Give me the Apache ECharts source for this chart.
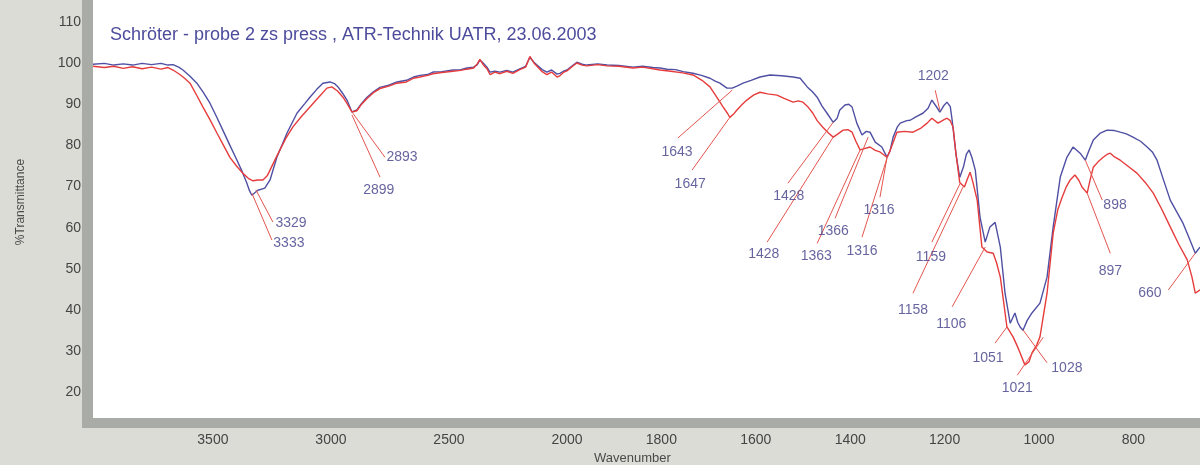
<!DOCTYPE html>
<html>
<head>
<meta charset="utf-8">
<script src="https://cdn.jsdelivr.net/npm/echarts@6/dist/echarts.min.js"></script>
<style>
  html, body { margin: 0; padding: 0; background: #dcdcd7; }
  #chart { width: 1200px; height: 465px; }
</style>
</head>
<body>
<div id="chart"></div>
<script>
// wavenumber ticks along the bottom, y ticks on the left
const xTicks = [3500, 3000, 2500, 2000, 1800, 1600, 1400, 1200, 1000, 800]
const yTicks = [20, 30, 40, 50, 60, 70, 80, 90, 100, 110]

// blue spectrum [wavenumber, %T]
const blueData = [
  [4008, 99.7], [3960, 99.9], [3920, 99.5], [3880, 99.8], [3840, 99.5], [3800, 99.9], [3760, 99.6],
  [3720, 99.9], [3690, 99.5], [3669, 99.6], [3645, 99.0], [3627, 98.3], [3597, 96.8], [3568, 95.1],
  [3540, 92.8], [3513, 90.3], [3485, 87.0], [3458, 83.7], [3428, 80.0], [3398, 76.4], [3375, 73.5],
  [3356, 70.8], [3345, 69.0], [3335, 67.9], [3320, 68.6], [3309, 69.1], [3280, 69.6], [3258, 71.6],
  [3229, 77.1], [3186, 83.0], [3144, 87.8], [3110, 90.2], [3089, 91.7], [3060, 93.6], [3034, 95.1],
  [3004, 95.4], [2985, 95.0], [2970, 94.2], [2950, 92.6], [2932, 91.0], [2911, 88.1], [2890, 88.6],
  [2870, 90.2], [2847, 91.7], [2820, 93.0], [2792, 94.1], [2755, 94.6], [2720, 95.4], [2680, 95.8],
  [2650, 96.6], [2623, 97.0], [2590, 97.2], [2568, 97.8], [2530, 97.9], [2483, 98.3], [2450, 98.4],
  [2424, 98.8], [2395, 99.0], [2380, 99.6], [2369, 100.7], [2355, 100.0], [2339, 99.0], [2326, 97.8],
  [2305, 98.0], [2284, 97.8], [2255, 98.2], [2229, 97.8], [2200, 98.6], [2175, 99.2], [2157, 101.4],
  [2140, 100.2], [2127, 99.5], [2105, 98.4], [2085, 97.8], [2065, 98.3], [2042, 97.3], [2030, 97.5],
  [2015, 98.0], [2000, 98.3], [1988, 99.4], [1979, 100.2], [1968, 99.7], [1958, 99.5], [1935, 99.8],
  [1915, 99.5], [1890, 99.4], [1860, 99.0], [1840, 99.2], [1818, 98.9], [1803, 98.8], [1788, 98.5],
  [1770, 98.4], [1754, 97.9], [1733, 97.5], [1715, 97.0], [1697, 96.3], [1686, 95.6], [1676, 95.1],
  [1661, 93.9], [1650, 93.9], [1640, 94.4], [1627, 95.1], [1610, 95.8], [1591, 96.6], [1570, 97.1],
  [1545, 96.9], [1521, 96.6], [1506, 96.3], [1491, 94.2], [1480, 93.0], [1470, 91.7], [1460, 89.6],
  [1449, 87.8], [1436, 85.6], [1428, 86.5], [1422, 88.6], [1411, 89.8], [1403, 90.0], [1396, 89.3],
  [1386, 85.4], [1375, 82.5], [1366, 83.4], [1358, 83.2], [1347, 80.8], [1333, 79.6], [1322, 77.1],
  [1316, 78.5], [1309, 82.0], [1300, 84.5], [1294, 85.4], [1280, 86.0], [1273, 86.1], [1260, 87.0],
  [1246, 87.8], [1235, 89.0], [1227, 91.0], [1218, 89.5], [1210, 88.1], [1202, 89.6], [1195, 90.5],
  [1188, 89.4], [1184, 86.1], [1176, 78.0], [1168, 72.2], [1160, 74.8], [1154, 77.8], [1148, 78.9],
  [1142, 77.0], [1135, 74.0], [1125, 62.6], [1114, 56.5], [1104, 60.2], [1093, 61.3], [1082, 55.3],
  [1072, 44.1], [1061, 36.8], [1051, 39.3], [1045, 37.0], [1040, 35.9], [1034, 35.1], [1025, 37.5],
  [1015, 39.3], [998, 41.7], [983, 48.0], [970, 60.2], [955, 72.3], [941, 77.1], [928, 79.6],
  [913, 78.1], [902, 76.4], [894, 78.8], [885, 81.3], [870, 83.0], [856, 83.7], [840, 83.6],
  [828, 83.2], [815, 82.8], [801, 82.0], [785, 81.0], [771, 79.6], [760, 78.4], [750, 76.4],
  [736, 71.5], [722, 66.7], [708, 63.8], [695, 61.1], [682, 57.5], [669, 53.8], [659, 55.3]
]

// red spectrum [wavenumber, %T]
const redData = [
  [4008, 99.2], [3960, 98.9], [3920, 99.2], [3880, 98.7], [3840, 99.1], [3800, 98.6], [3760, 99.0],
  [3720, 98.5], [3690, 98.9], [3669, 98.3], [3640, 97.2], [3620, 96.3], [3597, 95.1], [3570, 92.3],
  [3542, 89.3], [3512, 86.2], [3483, 83.0], [3455, 80.0], [3428, 77.1], [3400, 75.0], [3373, 73.2],
  [3350, 72.0], [3330, 71.4], [3310, 71.6], [3288, 71.6], [3270, 72.6], [3258, 74.0], [3236, 76.6],
  [3216, 78.9], [3190, 81.8], [3161, 84.5], [3125, 87.0], [3089, 89.3], [3050, 91.8], [3017, 93.9],
  [2996, 94.2], [2972, 93.2], [2949, 91.7], [2930, 90.0], [2911, 88.1], [2890, 88.4], [2870, 90.0],
  [2847, 91.4], [2820, 92.8], [2792, 93.8], [2755, 94.4], [2720, 95.1], [2680, 95.4], [2650, 96.3],
  [2623, 96.6], [2590, 97.0], [2568, 97.4], [2530, 97.7], [2483, 98.0], [2450, 98.2], [2424, 98.5],
  [2395, 98.8], [2380, 99.8], [2369, 100.9], [2355, 99.6], [2339, 98.6], [2326, 97.2], [2305, 97.8],
  [2284, 97.4], [2255, 98.0], [2229, 97.5], [2200, 98.4], [2175, 99.0], [2157, 101.6], [2140, 100.0],
  [2127, 99.2], [2105, 97.9], [2085, 97.2], [2065, 97.8], [2042, 96.6], [2030, 96.9], [2015, 97.7],
  [2000, 98.1], [1988, 99.2], [1979, 100.0], [1968, 99.5], [1958, 99.3], [1935, 99.6], [1915, 99.3],
  [1890, 99.2], [1860, 98.8], [1840, 99.0], [1818, 98.6], [1803, 98.3], [1780, 98.0], [1755, 97.6],
  [1733, 97.1], [1714, 95.8], [1697, 94.2], [1682, 91.6], [1669, 89.3], [1660, 87.8], [1655, 86.8],
  [1647, 87.6], [1640, 88.6], [1630, 89.8], [1619, 91.0], [1605, 92.2], [1591, 92.9], [1575, 92.5],
  [1555, 92.2], [1540, 91.4], [1521, 90.5], [1510, 90.8], [1500, 90.5], [1490, 89.4], [1479, 87.8],
  [1470, 86.0], [1458, 84.4], [1446, 83.0], [1436, 82.0], [1428, 82.6], [1415, 83.7], [1405, 83.8],
  [1396, 83.2], [1388, 81.0], [1379, 78.9], [1370, 79.2], [1358, 79.6], [1347, 78.8], [1337, 78.4],
  [1322, 77.1], [1316, 78.6], [1301, 83.2], [1285, 83.4], [1267, 83.2], [1250, 84.2], [1237, 85.4],
  [1227, 86.6], [1214, 85.4], [1202, 86.2], [1195, 86.6], [1188, 86.0], [1182, 84.4], [1176, 78.0],
  [1168, 71.0], [1158, 69.9], [1152, 71.8], [1146, 73.5], [1140, 71.0], [1131, 66.7], [1121, 55.3],
  [1110, 54.1], [1097, 53.8], [1090, 51.5], [1082, 48.0], [1075, 42.0], [1068, 35.9], [1055, 33.5],
  [1047, 31.5], [1040, 29.6], [1030, 26.7], [1021, 27.5], [1015, 29.6], [1005, 31.5], [998, 33.5],
  [983, 44.1], [970, 58.7], [960, 64.5], [951, 67.4], [942, 70.0], [934, 71.6], [924, 72.8],
  [916, 71.6], [909, 69.9], [898, 68.4], [892, 71.5], [885, 74.7], [875, 76.0], [864, 77.1],
  [856, 77.8], [849, 78.1], [840, 77.2], [828, 76.4], [810, 74.8], [792, 73.2], [775, 71.0],
  [758, 68.4], [740, 64.5], [722, 60.2], [704, 56.0], [686, 52.2], [676, 48.0], [669, 44.1], [659, 44.9]
]

// peak labels: [text, start wavenumber, start %T, end wavenumber, end %T, label wavenumber, label %T]
const peakLabels = [
  ['3329', 3318, 69.2, 3246, 61.4, 3169, 61.1],
  ['3333', 3335, 68.4, 3250, 57.0, 3178, 56.3],
  ['2893', 2907, 87.8, 2771, 77.1, 2699, 77.1],
  ['2899', 2911, 87.4, 2792, 72.3, 2797, 69.2],
  ['1643', 1650, 93.4, 1765, 81.8, 1767, 78.4],
  ['1647', 1655, 86.8, 1735, 74.0, 1739, 70.6],
  ['1428', 1436, 85.6, 1532, 70.8, 1530, 67.6],
  ['1428', 1436, 82.0, 1576, 56.5, 1583, 53.6],
  ['1366', 1362, 82.0, 1432, 62.3, 1436, 59.2],
  ['1363', 1379, 78.9, 1470, 56.2, 1472, 53.1],
  ['1316', 1322, 77.1, 1337, 67.4, 1339, 64.3],
  ['1316', 1322, 76.9, 1375, 57.7, 1375, 54.3],
  ['1202', 1210, 88.5, 1220, 93.4, 1224, 96.8],
  ['1159', 1167, 70.8, 1227, 56.5, 1229, 52.9],
  ['1158', 1161, 69.9, 1267, 44.1, 1267, 40.0],
  ['1106', 1114, 55.3, 1184, 40.8, 1186, 36.6],
  ['1051', 1068, 35.9, 1093, 32.0, 1108, 28.4],
  ['1021', 991, 33.4, 1046, 24.2, 1046, 21.1],
  ['1028', 1034, 35.2, 983, 27.2, 941, 26.0],
  ['898', 902, 76.4, 866, 66.7, 839, 65.5],
  ['897', 898, 68.4, 849, 53.8, 849, 49.5],
  ['660', 669, 53.8, 726, 44.9, 765, 44.2]
]

// axis is compressed 2:1 above 2000 cm-1
const toAxis = w => w <= 2000 ? w : 2000 + (w - 2000) / 2
const fromAxis = t => t <= 2000 ? t : 2000 + (t - 2000) * 2
const mapPts = arr => arr.map(p => [toAxis(p[0]), p[1]])

const chart = echarts.init(document.getElementById('chart'))

const option = {
    animation: false,
    backgroundColor: '#dcdcd7',
    title: {
        text: 'Schröter - probe 2 zs press , ATR-Technik UATR, 23.06.2003',
        left: 105,
        top: 21,
        textStyle: {
            color: '#4d4c9c',
            fontFamily: 'Liberation Sans, Arial',
            fontSize: 18,
            fontWeight: 'normal'
        }
    },
    grid: {
        left: 93,
        right: 0,
        top: 0,
        bottom: 47,
        outerBoundsMode: 'none',
        containLabel: false,
        show: true,
        backgroundColor: '#ffffff',
        borderWidth: 0
    },
    xAxis: {
        type: 'value',
        inverse: true,
        min: toAxis(659),
        max: toAxis(4008),
        name: 'Wavenumber',
        nameLocation: 'middle',
        nameGap: 32,
        nameTextStyle: {
            color: '#4a4a4a',
            fontFamily: 'Liberation Sans, Arial',
            fontSize: 13,
            padding: [0, 28, 0, 0]
        },
        axisLine: { show: false },
        axisTick: { show: false },
        splitLine: { show: false },
        axisLabel: {
            customValues: xTicks.map(toAxis),
            margin: 15,
            color: '#444',
            fontFamily: 'Liberation Sans, Arial',
            fontSize: 14,
            formatter: v => String(Math.round(fromAxis(v)))
        }
    },
    yAxis: {
        type: 'value',
        min: 13.8,
        max: 115.3,
        name: '%Transmittance',
        nameLocation: 'middle',
        nameRotate: 90,
        nameGap: 66,
        nameTextStyle: {
            color: '#4a4a4a',
            fontFamily: 'Liberation Sans, Arial',
            fontSize: 12,
            padding: [0, 0, 0, 14]
        },
        axisLine: { show: false },
        axisTick: { show: false },
        splitLine: { show: false },
        axisLabel: {
            customValues: yTicks,
            margin: 12,
            color: '#444',
            fontFamily: 'Liberation Sans, Arial',
            fontSize: 14
        }
    },
    graphic: {
        elements: [
            // grey frame on the left and bottom of the plot
            { type: 'rect', shape: { x: 82, y: 0, width: 11, height: 428 }, style: { fill: '#a9aba6' }, z: 100 },
            { type: 'rect', shape: { x: 82, y: 418, width: 1118, height: 10 }, style: { fill: '#a9aba6' }, z: 100 }
        ]
    },
    series: [
        {
            name: 'blue',
            type: 'line',
            data: mapPts(blueData),
            showSymbol: false,
            silent: true,
            lineStyle: { color: '#4f4fa3', width: 1.4 },
            z: 3
        },
        {
            name: 'red',
            type: 'line',
            data: mapPts(redData),
            showSymbol: false,
            silent: true,
            lineStyle: { color: '#e63c3c', width: 1.4 },
            z: 4
        },
        {
            name: 'peakLines',
            type: 'lines',
            coordinateSystem: 'cartesian2d',
            silent: true,
            lineStyle: { color: '#e4554f', width: 1, opacity: 1 },
            data: peakLabels.map(p => ({ coords: [[toAxis(p[1]), p[2]], [toAxis(p[3]), p[4]]] })),
            z: 5
        },
        {
            name: 'peakText',
            type: 'scatter',
            symbolSize: 0,
            silent: true,
            data: peakLabels.map(p => ({ value: [toAxis(p[5]), p[6]], name: p[0] })),
            label: {
                show: true,
                position: 'inside',
                formatter: '{b}',
                color: '#3f3d86',
                fontFamily: 'Liberation Sans, Arial',
                fontSize: 14
            },
            z: 6
        }
    ]
}

chart.setOption(option)
</script>
</body>
</html>
